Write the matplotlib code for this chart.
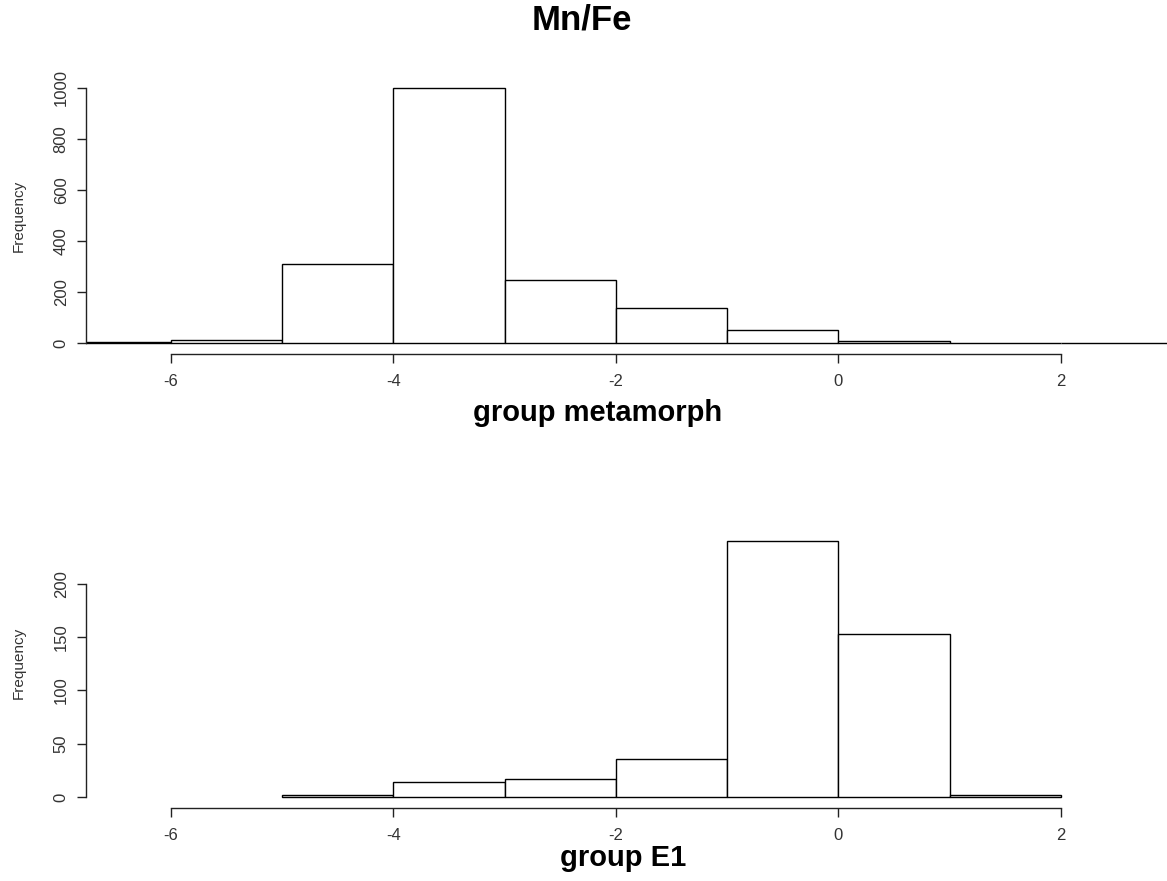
import numpy as np
import matplotlib
matplotlib.use("Agg")
import matplotlib.pyplot as plt

plt.rcParams['font.family'] = ['Liberation Sans', 'DejaVu Sans']

# Mn/Fe histograms, unit-width bins
meta_edges = [-7, -6, -5, -4, -3, -2, -1, 0, 1, 2, 3]
meta_counts = [3, 12, 308, 998, 248, 137, 51, 8, 0, 0]

e1_edges = [-5, -4, -3, -2, -1, 0, 1, 2]
e1_counts = [2, 14, 17, 36, 240, 153, 2]

x_ticks = [-6, -4, -2, 0, 2]
meta_yticks = [0, 200, 400, 600, 800, 1000]
e1_yticks = [0, 50, 100, 150, 200]

W, H = 1167, 881
fig = plt.figure(figsize=(W / 100, H / 100), dpi=100)

xlim = (-6.764, 2.953)
ax_color = '#222222'


def px_axes(left, top, right, bottom):
    return fig.add_axes([left / W, 1 - bottom / H, (right - left) / W, (bottom - top) / H])


def style(ax, yticks):
    ax.set_xlim(*xlim)
    for s in ('top', 'right'):
        ax.spines[s].set_visible(False)
    ax.spines['left'].set_bounds(yticks[0], yticks[-1])
    ax.spines['bottom'].set_bounds(x_ticks[0], x_ticks[-1])
    for s in ('left', 'bottom'):
        ax.spines[s].set_color(ax_color)
        ax.spines[s].set_linewidth(1.0)
    ax.set_xticks(x_ticks)
    ax.set_xticklabels([str(t) for t in x_ticks])
    ax.set_yticks(yticks)
    ax.set_yticklabels([str(t) for t in yticks], rotation=90, va='center')
    ax.tick_params(axis='both', direction='out', length=6.5, width=1.0,
                   color=ax_color, labelcolor='#333333', labelsize=12)
    ax.tick_params(axis='x', pad=8)
    ax.tick_params(axis='y', pad=6)
    ax.patch.set_visible(False)


def draw_hist(ax, edges, counts):
    edges = np.asarray(edges, dtype=float)
    ax.bar(edges[:-1], counts, width=np.diff(edges), align='edge',
           facecolor='white', edgecolor='black', linewidth=1.0)


# top panel
ax1 = px_axes(86, 70, 1167, 354)
ax1.set_ylim(-43, 1070)
draw_hist(ax1, meta_edges, meta_counts)
style(ax1, meta_yticks)

# bottom panel
ax2 = px_axes(86, 520, 1167, 808)
ax2.set_ylim(-10.3, 260)
draw_hist(ax2, e1_edges, e1_counts)
style(ax2, e1_yticks)

fig.text(582 / W, 1 - 20 / H, 'Mn/Fe', ha='center', va='center',
         fontsize=25, fontweight='bold')
fig.text(598 / W, 1 - 413 / H, 'group metamorph', ha='center', va='center',
         fontsize=21, fontweight='bold')
fig.text(623 / W, 1 - 858 / H, 'group E1', ha='center', va='center',
         fontsize=21, fontweight='bold')
fig.text(19 / W, 1 - 216 / H, 'Frequency', ha='center', va='center',
         rotation=90, fontsize=11, color='#333333')
fig.text(19 / W, 1 - 663 / H, 'Frequency', ha='center', va='center',
         rotation=90, fontsize=11, color='#333333')

fig.savefig('out.png', dpi=100, facecolor='white')
